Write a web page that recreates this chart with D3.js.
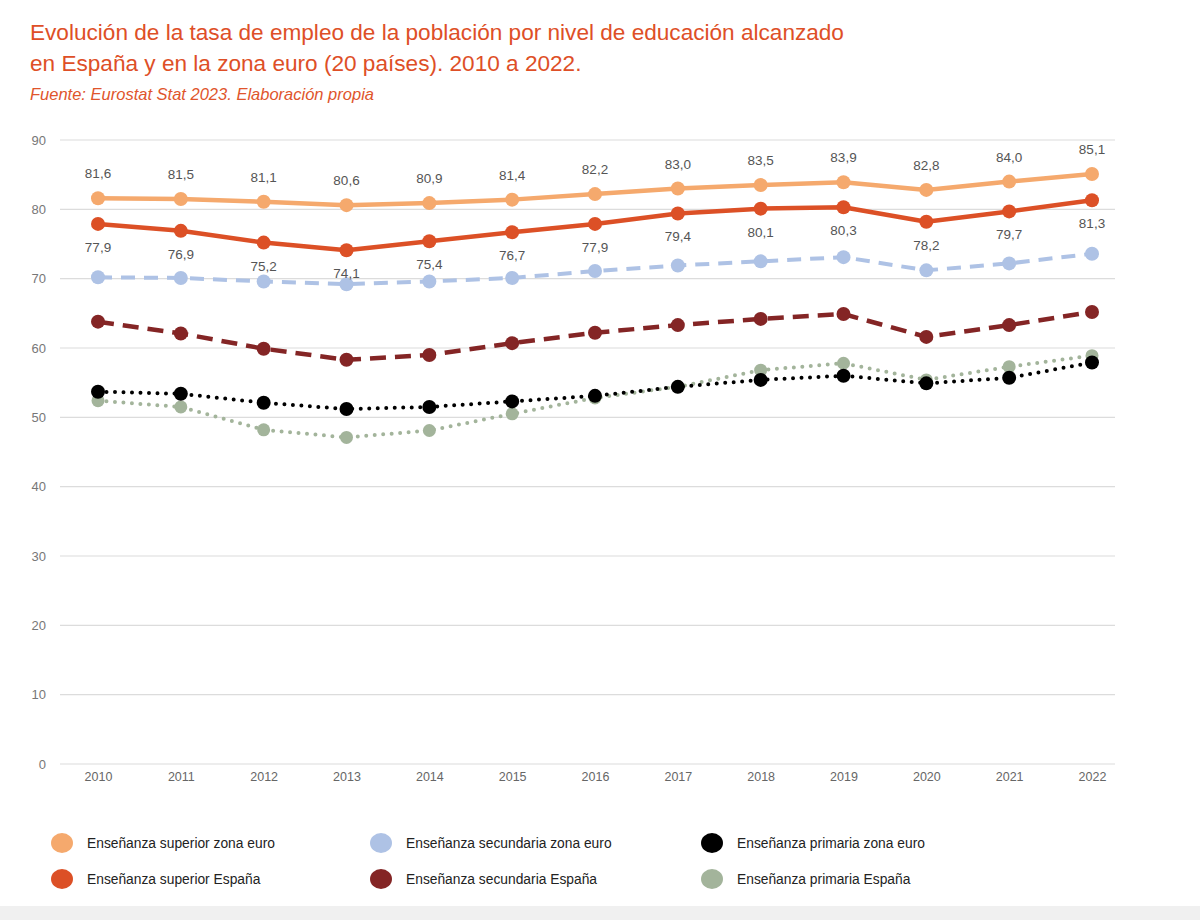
<!DOCTYPE html>
<html>
<head>
<meta charset="utf-8">
<script src="https://cdn.jsdelivr.net/npm/d3@7"></script>
<style>
  body { margin: 0; background: #fff; }
  text { font-family: "Liberation Sans", Arial, sans-serif; }
</style>
</head>
<body>
<div id="chart"></div>
<script>
const years = [2010, 2011, 2012, 2013, 2014, 2015, 2016, 2017, 2018, 2019, 2020, 2021, 2022];
const yTicks = [0, 10, 20, 30, 40, 50, 60, 70, 80, 90];

const superiorEuro = [81.6, 81.5, 81.1, 80.6, 80.9, 81.4, 82.2, 83.0, 83.5, 83.9, 82.8, 84.0, 85.1];
const superiorEspana = [77.9, 76.9, 75.2, 74.1, 75.4, 76.7, 77.9, 79.4, 80.1, 80.3, 78.2, 79.7, 81.3];
const secundariaEuro = [70.2, 70.1, 69.6, 69.2, 69.6, 70.1, 71.1, 71.9, 72.5, 73.1, 71.2, 72.2, 73.6];
const secundariaEspana = [63.8, 62.1, 59.9, 58.3, 59.0, 60.7, 62.2, 63.3, 64.2, 64.9, 61.6, 63.3, 65.2];
const primariaEuro = [53.7, 53.4, 52.1, 51.2, 51.5, 52.3, 53.1, 54.4, 55.4, 56.0, 54.9, 55.7, 57.9];
const primariaEspana = [52.4, 51.5, 48.2, 47.1, 48.1, 50.5, 52.8, 54.4, 56.8, 57.8, 55.4, 57.3, 58.9];

const seriesNames = [
  "Enseñanza superior zona euro", "Enseñanza secundaria zona euro", "Enseñanza primaria zona euro",
  "Enseñanza superior España", "Enseñanza secundaria España", "Enseñanza primaria España"
];

const w = 1200, h = 920;
const svg = d3.select("#chart").append("svg").attr("width", w).attr("height", h);

// titulo
svg.append("text").attr("x", 30).attr("y", 40)
  .style("font-size", "22.6px").attr("fill", "#DE4F27")
  .text("Evolución de la tasa de empleo de la población por nivel de educación alcanzado");
svg.append("text").attr("x", 30).attr("y", 71)
  .style("font-size", "22.6px").attr("fill", "#DE4F27")
  .text("en España y en la zona euro (20 países). 2010 a 2022.");
svg.append("text").attr("x", 30).attr("y", 100)
  .style("font-size", "16.5px").style("font-style", "italic").attr("fill", "#E0552C")
  .text("Fuente: Eurostat Stat 2023. Elaboración propia");

const xScale = d3.scalePoint().domain(years).range([98, 1092]);
const yScale = d3.scaleLinear().domain([0, 90]).range([764, 140]);

// rejilla
svg.append("g").selectAll("line").data(yTicks).enter().append("line")
  .attr("x1", 60).attr("x2", 1115)
  .attr("y1", d => yScale(d)).attr("y2", d => yScale(d))
  .attr("stroke", "#dcdcdc").attr("stroke-width", 1.2);

const yAxis = d3.axisLeft(yScale).tickValues(yTicks).tickSize(0).tickPadding(0);
const gy = svg.append("g").attr("transform", "translate(46,0)").call(yAxis);
gy.select(".domain").remove();
gy.selectAll("text").style("font-size", "13px").attr("fill", "#777");

const xAxis = d3.axisBottom(xScale).tickSize(0).tickPadding(0);
const gx = svg.append("g").attr("transform", "translate(0,772)").call(xAxis);
gx.select(".domain").remove();
gx.selectAll("text").style("font-size", "12.5px").attr("fill", "#666");

const series = [
  { values: primariaEspana, color: "#A3B49B", width: 4, dash: "0,8.5", cap: "round", r: 6.5 },
  { values: primariaEuro, color: "#000000", width: 4, dash: "0,8.5", cap: "round", r: 7 },
  { values: secundariaEspana, color: "#842525", width: 4.5, dash: "16,9", cap: "butt", r: 7 },
  { values: secundariaEuro, color: "#AEC2E5", width: 4, dash: "14,9", cap: "butt", r: 7 },
  { values: superiorEspana, color: "#DC5026", width: 4.5, dash: null, cap: "butt", r: 7 },
  { values: superiorEuro, color: "#F5A96D", width: 4.5, dash: null, cap: "butt", r: 7 }
];

const line = d3.line().x((d, i) => xScale(years[i])).y(d => yScale(d));

series.forEach(s => {
  svg.append("path").datum(s.values)
    .attr("d", line)
    .attr("fill", "none")
    .attr("stroke", s.color)
    .attr("stroke-width", s.width)
    .attr("stroke-linecap", s.cap)
    .attr("stroke-linejoin", "round")
    .attr("stroke-dasharray", s.dash);
  svg.append("g").selectAll("circle").data(s.values).enter().append("circle")
    .attr("cx", (d, i) => xScale(years[i]))
    .attr("cy", d => yScale(d))
    .attr("r", s.r)
    .attr("fill", s.color);
});

// etiquetas
const fmt = d => d.toFixed(1).replace(".", ",");
svg.append("g").selectAll("text").data(superiorEuro).enter().append("text")
  .attr("x", (d, i) => xScale(years[i]))
  .attr("y", d => yScale(d) - 20)
  .attr("text-anchor", "middle")
  .style("font-size", "13.5px").attr("fill", "#555")
  .text(fmt);
svg.append("g").selectAll("text").data(superiorEspana).enter().append("text")
  .attr("x", (d, i) => xScale(years[i]))
  .attr("y", d => yScale(d) + 28)
  .attr("text-anchor", "middle")
  .style("font-size", "13.5px").attr("fill", "#555")
  .text(fmt);

// leyenda
const legendColors = ["#F5A96D", "#AEC2E5", "#000000", "#DC5026", "#842525", "#A3B49B"];
const legendX = [62, 381, 712];
const legend = svg.append("g").selectAll("g").data(seriesNames).enter().append("g")
  .attr("transform", (d, i) => "translate(" + legendX[i % 3] + "," + (i < 3 ? 843 : 879) + ")");
legend.append("ellipse").attr("rx", 11).attr("ry", 10)
  .attr("fill", (d, i) => legendColors[i]);
legend.append("text").attr("x", 25).attr("y", 5)
  .style("font-size", "13.8px").attr("fill", "#222")
  .text(d => d);

// franja inferior
svg.append("rect").attr("x", 0).attr("y", 906).attr("width", w).attr("height", 14).attr("fill", "#f0f0f0");
</script>
</body>
</html>
